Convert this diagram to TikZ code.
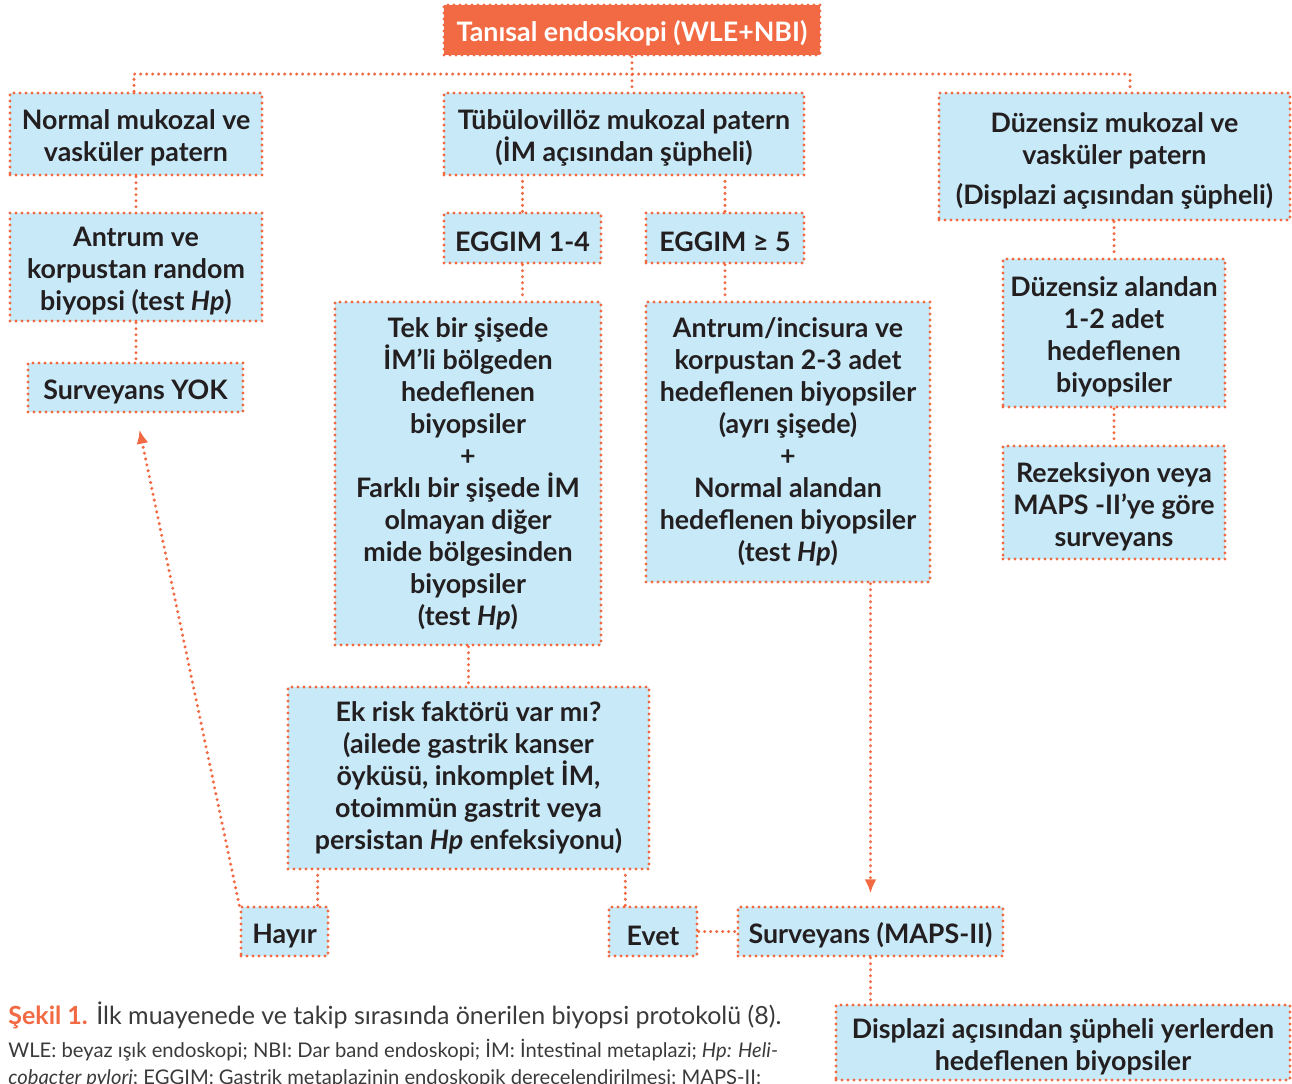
\documentclass[tikz,border=0pt]{standalone}
\usepackage{fontspec}
\setmainfont{Lato}
\usetikzlibrary{arrows.meta,positioning}
\definecolor{colorLine}{HTML}{F26A43}
\definecolor{colorBox}{HTML}{C8E9F8}
\definecolor{colorText}{HTML}{231F20}
\definecolor{colorCap}{HTML}{3A3A3A}
\newcommand{\topstrut}{\rule{0pt}{14pt}}

\begin{document}
\begin{tikzpicture}[x=0.5pt,y=-0.5pt,>=Latex,every node/.append style={align=center},
  dots/.style={draw=colorLine, line width=1.7pt, line cap=round, dash pattern=on 0pt off 3pt},
  box/.style={dots, fill=colorBox, inner sep=0pt, text=colorText, font=\fontsize{13.4}{16}\selectfont\bfseries},
  low/.style={execute at begin node={\topstrut}},
  topbox/.style={box, low, fill=colorLine, text=white},
  link/.style={dots},
  arr/.style={dots, -{Latex[length=7pt,width=6pt]}},
  captext/.style={anchor=base west, inner sep=0pt, text=colorCap, align=left},]
    \useasboundingbox (0,0) rectangle (1292,1083);
    % first row
    \node [topbox, minimum width=188pt, minimum height=25pt] (top) at (632,30) {Tanısal endoskopi (WLE+NBI)};
    \node [box, minimum width=126pt, minimum height=41pt] (normal) at (136,134) {\topstrut Normal mukozal ve\\vasküler patern};
    \node [box, minimum width=180pt, minimum height=41pt] (tubu) at (624,134) {\topstrut Tübülovillöz mukozal patern\\(İM açısından şüpheli)};
    \node [box, minimum width=175.5pt, minimum height=63.5pt] (duz) at (1114.5,156.5) {\topstrut Düzensiz mukozal ve\\vasküler patern\\[4pt](Displazi açısından şüpheli)};
    \coordinate (busL) at (134,74);
    \coordinate (busR) at (1130,74);
    \draw [link] (top.south) -- (top.south |- tubu.north);
    \draw [link] (normal.north -| busL) -- (busL) -- (busR) -- (busR |- duz.north);
    % left column
    \node [box, minimum width=126pt, minimum height=54pt] (rand) at (136,267) {\topstrut Antrum ve\\korpustan random\\biyopsi (test \textit{Hp})};
    \node [box, low, minimum width=107.5pt, minimum height=24.5pt] (yok) at (135.5,387.5) {Surveyans YOK};
    \draw [link] (normal.south) -- (rand.north);
    \draw [link] (rand.south) -- (rand.south |- yok.north);
    % middle columns
    \node [box, low, minimum width=78.5pt, minimum height=25pt] (eggA) at (522.5,238) {EGGIM 1-4};
    \node [box, low, minimum width=79pt, minimum height=25pt] (eggB) at (725,238) {EGGIM ≥ 5};
    \draw [link] (eggA.north) -- (eggA.north |- tubu.south);
    \draw [link] (eggB.north) -- (eggB.north |- tubu.south);
    \node [box, minimum width=133pt, minimum height=171.5pt] (tek) at (468,473.5) {Tek bir şişede\\İM’li bölgeden\\hedeflenen\\biyopsiler\\+\\Farklı bir şişede İM\\olmayan diğer\\mide bölgesinden\\biyopsiler\\(test \textit{Hp})};
    \node [box, minimum width=142pt, minimum height=140pt] (antr) at (788,442) {Antrum/incisura ve\\korpustan 2-3 adet\\hedeflenen biyopsiler\\(ayrı şişede)\\+\\Normal alandan\\hedeflenen biyopsiler\\(test \textit{Hp})};
    \draw [link] (eggA.south) -- (eggA.south |- tek.north);
    \draw [link] (eggB.south) -- (eggB.south |- antr.north);
    \node [box, minimum width=180.5pt, minimum height=91pt] (ek) at (468.5,778) {Ek risk faktörü var mı?\\(ailede gastrik kanser\\öyküsü, inkomplet İM,\\otoimmün gastrit veya\\persistan \textit{Hp} enfeksiyonu)};
    \draw [link] (tek.south -| ek.north) -- (ek.north);
    \node [box, low, minimum width=43.5pt, minimum height=24.5pt] (hayir) at (284.5,931.5) {Hayır};
    \node [box, low, minimum width=44pt, minimum height=24.5pt] (evet) at (653,931.5) {Evet};
    \node [box, low, minimum width=132.5pt, minimum height=24.5pt] (maps) at (870.5,931.5) {Surveyans (MAPS-II)};
    \draw [link] ([xshift=-6pt]hayir.north east) -- ([xshift=-6pt]hayir.north east |- ek.south);
    \draw [link] ([xshift=9pt]evet.north west) -- ([xshift=9pt]evet.north west |- ek.south);
    \draw [link] (evet.east) -- (maps.west);
    \draw [arr] (hayir.north west) -- ([xshift=2pt,yshift=-8pt]yok.south);
    \draw [arr] (antr.south -| maps.north) -- ([yshift=6pt]maps.north);
    \node [box, minimum width=227pt, minimum height=37.5pt] (displ) at (1063,1042.5) {\topstrut Displazi açısından şüpheli yerlerden\\hedeflenen biyopsiler};
    \draw [link] (maps.south) -- (maps.south |- displ.north);
    % right column
    \node [box, minimum width=111pt, minimum height=74pt] (alan) at (1114,333) {\topstrut Düzensiz alandan\\1-2 adet\\hedeflenen\\biyopsiler};
    \node [box, minimum width=111pt, minimum height=56.5pt] (rez) at (1114,502.5) {\topstrut Rezeksiyon veya\\MAPS -II’ye göre\\surveyans};
    \draw [link] (duz.south -| alan.north) -- (alan.north);
    \draw [link] (alan.south) -- (rez.north);
    % caption
    \node [captext, font=\fontsize{12.5}{14}\selectfont] (cap1) at (8,1024) {{\color{colorLine}\bfseries Şekil 1.} İlk muayenede ve takip sırasında önerilen biyopsi protokolü (8).};
    \node [captext, font=\fontsize{10.1}{12}\selectfont] (cap2) at (8,1057) {WLE: beyaz ışık endoskopi; NBI: Dar band endoskopi; İM: İntestinal metaplazi; \textit{Hp: Heli-}};
    \node [captext, font=\fontsize{10.1}{12}\selectfont] (cap3) at (8,1084) {\textit{cobacter pylori}; EGGIM: Gastrik metaplazinin endoskopik derecelendirilmesi; MAPS-II:};
\end{tikzpicture}
\end{document}
